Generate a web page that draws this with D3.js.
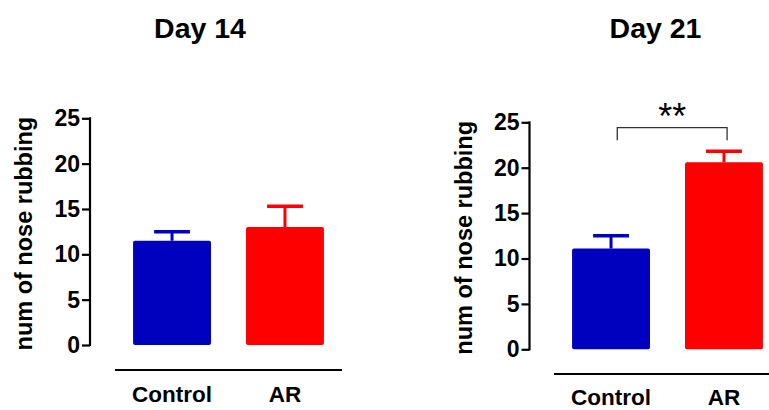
<!DOCTYPE html>
<html>
<head>
<meta charset="utf-8">
<script src="https://cdn.jsdelivr.net/npm/d3@7"></script>
<style>
    body { margin: 0; background: #fff; }
    svg { display: block; font-family: "Liberation Sans", Arial, sans-serif; }
</style>
</head>
<body>
<div id="chart"></div>
<script>
const categories = ['Control', 'AR'];
const colors = ['#0000bf', '#ff0000'];
const yTicks = [0, 5, 10, 15, 20, 25];

const day14Means = [11.5, 13.0];
const day14Errors = [1.0, 2.3];
const day21Means = [11.1, 20.6];
const day21Errors = [1.4, 1.2];

const panels = [
    { title: 'Day 14', means: day14Means, errors: day14Errors, sig: null,
      axisX: 90, y0: 345, y25: 118.3, xRange: [115, 342], baseY: 370, titleX: 200, labelY: 402 },
    { title: 'Day 21', means: day21Means, errors: day21Errors, sig: '**',
      axisX: 529.5, y0: 349.3, y25: 122.3, xRange: [554, 781], baseY: 374, titleX: 655.5, labelY: 405 }
];

const svg = d3.select('#chart')
    .append('svg')
    .attr('width', 769)
    .attr('height', 410);

panels.forEach(function (p) {
    const g = svg.append('g');

    const x = d3.scaleBand()
        .domain(categories)
        .range(p.xRange)
        .paddingInner(0.31)
        .paddingOuter(0.16);

    const y = d3.scaleLinear()
        .domain([0, 25])
        .range([p.y0, p.y25]);

    // title
    g.append('text')
        .attr('x', p.titleX)
        .attr('y', 38)
        .attr('text-anchor', 'middle')
        .attr('font-size', 28.5)
        .attr('font-weight', 'bold')
        .text(p.title);

    // y axis
    const yAxis = g.append('g')
        .attr('transform', 'translate(' + p.axisX + ',0)')
        .call(d3.axisLeft(y).tickValues(yTicks).tickSize(8).tickPadding(2));
    yAxis.select('.domain').attr('stroke-width', 2.2).attr('d', 'M0,' + (y(0) + 1) + 'V' + (y(25) - 1));
    yAxis.selectAll('.tick line').attr('stroke-width', 2.2);
    yAxis.selectAll('.tick text')
        .attr('font-size', 23)
        .attr('font-weight', 'bold')
        .attr('fill', '#000')
        .attr('font-family', '"Liberation Sans", Arial, sans-serif');

    // y title
    g.append('text')
        .attr('transform', 'translate(' + (p.axisX - 58) + ',' + ((p.y0 + p.y25) / 2 + 2) + ') rotate(-90)')
        .attr('text-anchor', 'middle')
        .attr('font-size', 23.5)
        .attr('font-weight', 'bold')
        .text('num of nose rubbing');

    // bars
    g.selectAll('rect.bar')
        .data(p.means)
        .enter()
        .append('rect')
        .attr('class', 'bar')
        .attr('x', function (d, i) { return x(categories[i]); })
        .attr('y', function (d) { return y(d); })
        .attr('width', x.bandwidth())
        .attr('height', function (d) { return y(0) - y(d); })
        .attr('rx', 2)
        .attr('fill', function (d, i) { return colors[i]; });

    // error bars (upper only)
    p.means.forEach(function (m, i) {
        const cx = x(categories[i]) + x.bandwidth() / 2;
        const top = y(m + p.errors[i]);
        g.append('line')
            .attr('x1', cx).attr('x2', cx)
            .attr('y1', y(m)).attr('y2', top)
            .attr('stroke', colors[i])
            .attr('stroke-width', 3);
        g.append('line')
            .attr('x1', cx - x.bandwidth() * 0.23).attr('x2', cx + x.bandwidth() * 0.23)
            .attr('y1', top).attr('y2', top)
            .attr('stroke', colors[i])
            .attr('stroke-width', 3.5);
    });

    // x baseline and labels
    g.append('line')
        .attr('x1', p.xRange[0]).attr('x2', p.xRange[1])
        .attr('y1', p.baseY).attr('y2', p.baseY)
        .attr('stroke', '#000')
        .attr('stroke-width', 2.2);

    g.selectAll('text.cat')
        .data(categories)
        .enter()
        .append('text')
        .attr('class', 'cat')
        .attr('x', function (d) { return x(d) + x.bandwidth() / 2; })
        .attr('y', p.labelY)
        .attr('text-anchor', 'middle')
        .attr('font-size', 22.5)
        .attr('font-weight', 'bold')
        .text(function (d) { return d; });

    // significance bracket
    if (p.sig) {
        const xl = x('Control') + x.bandwidth() * 0.58;
        const xr = x('AR') + x.bandwidth() * 0.54;
        const by = 127.7;
        g.append('path')
            .attr('d', 'M' + xl + ',' + (by + 12.5) + 'V' + by + 'H' + xr + 'V' + (by + 12.5))
            .attr('fill', 'none')
            .attr('stroke', '#333')
            .attr('stroke-width', 1.3);
        g.append('text')
            .attr('x', (xl + xr) / 2)
            .attr('y', 129)
            .attr('text-anchor', 'middle')
            .attr('font-size', 36)
            .text(p.sig);
    }
});
</script>
</body>
</html>
